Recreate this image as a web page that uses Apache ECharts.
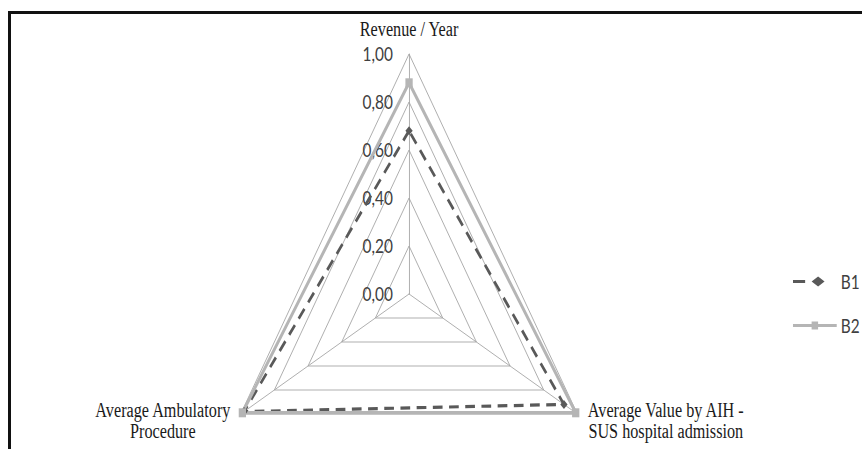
<!DOCTYPE html>
<html>
<head>
<meta charset="utf-8">
<script src="https://cdn.jsdelivr.net/npm/echarts@6/dist/echarts.min.js"></script>
<style>
  html, body { margin: 0; padding: 0; background: #fff; overflow: hidden; }
  body { width: 862px; height: 449px; position: relative; }
  /* chart drawn wide, then narrowed horizontally so the radar reads as a tall triangle */
  #chart { position: absolute; left: 0; top: 0; width: 1065px; height: 449px;
           transform: scaleX(0.81); transform-origin: 0 0; }
  #frame { position: absolute; left: 8px; top: 11px; right: -10px; bottom: -10px;
           border-left: 3px solid #111; border-top: 3px solid #111; pointer-events: none; }
</style>
</head>
<body>
<div id="chart"></div>
<div id="frame"></div>
<script>
// Axes of the radar, in drawing order (top, lower left, lower right)
const indicatorNames = [
  'Revenue / Year',
  'Average Ambulatory\nProcedure',
  'Average Value by AIH -\nSUS hospital admission'
];
const seriesNames = ['B1', 'B2'];
const valuesB1 = [0.68, 0.98, 0.92];
const valuesB2 = [0.88, 0.99, 0.99];
const axisMin = 0;
const axisMax = 1;
const axisSplits = 5;

const chart = echarts.init(document.getElementById('chart'), null, { renderer: 'svg' });

const gridGray = '#a6a6a6';
const darkGray = '#595959';
const lightGray = '#b5b5b5';

const option = {
  animation: false,
  backgroundColor: '#fff',
  legend: {
    orient: 'vertical',
    left: 979,
    top: 272,
    padding: 0,
    itemWidth: 54,
    itemHeight: 10,
    itemGap: 25,
    itemStyle: { borderWidth: 0 },
    textStyle: { fontFamily: 'Lato', fontSize: 19, color: '#404040' },
    data: [
      { name: seriesNames[0],
        icon: 'path://M0,3.6h15v2.8h-15z M23,5L31,0L39,5L31,10z M54,5L54,5.01' },
      { name: seriesNames[1],
        icon: 'path://M0,3.6h54v2.8h-54z M23,1h8v8h-8z' }
    ]
  },
  radar: {
    center: [505, 294],
    radius: 240,
    startAngle: 90,
    shape: 'polygon',
    splitNumber: axisSplits,
    nameGap: 14,
    axisName: {
      color: '#1a1a1a',
      formatter: function (name) {
        return name.split('\n').map(function (l) { return '{n|' + l + '}'; }).join('\n');
      },
      rich: {
        n: { fontFamily: 'Liberation Serif', fontSize: 20, lineHeight: 21, align: 'center', color: '#1a1a1a' }
      }
    },
    axisLine: { lineStyle: { color: gridGray, width: 1 } },
    splitLine: { lineStyle: { color: gridGray, width: 1 } },
    splitArea: { show: false },
    axisTick: { show: false },
    axisLabel: {
      show: false,
      margin: 20,
      padding: [5, 0, 0, 0],
      fontFamily: 'Lato',
      fontSize: 19,
      color: '#404040',
      formatter: function (v) { return Number(v).toFixed(2).replace('.', ','); }
    },
    indicator: indicatorNames.map(function (n, i) {
      const ind = { name: n, min: axisMin, max: axisMax };
      if (i === 0) ind.axisLabel = { show: true };
      return ind;
    })
  },
  series: [{
    type: 'radar',
    data: [
      {
        name: seriesNames[0],
        value: valuesB1,
        symbol: 'diamond',
        symbolSize: 9,
        itemStyle: { color: darkGray },
        lineStyle: { color: darkGray, width: 3.2, type: [12, 8] }
      },
      {
        name: seriesNames[1],
        value: valuesB2,
        symbol: 'rect',
        symbolSize: 9,
        itemStyle: { color: lightGray },
        lineStyle: { color: lightGray, width: 3.5, type: 'solid' }
      }
    ]
  }]
};

chart.setOption(option);
</script>
</body>
</html>
